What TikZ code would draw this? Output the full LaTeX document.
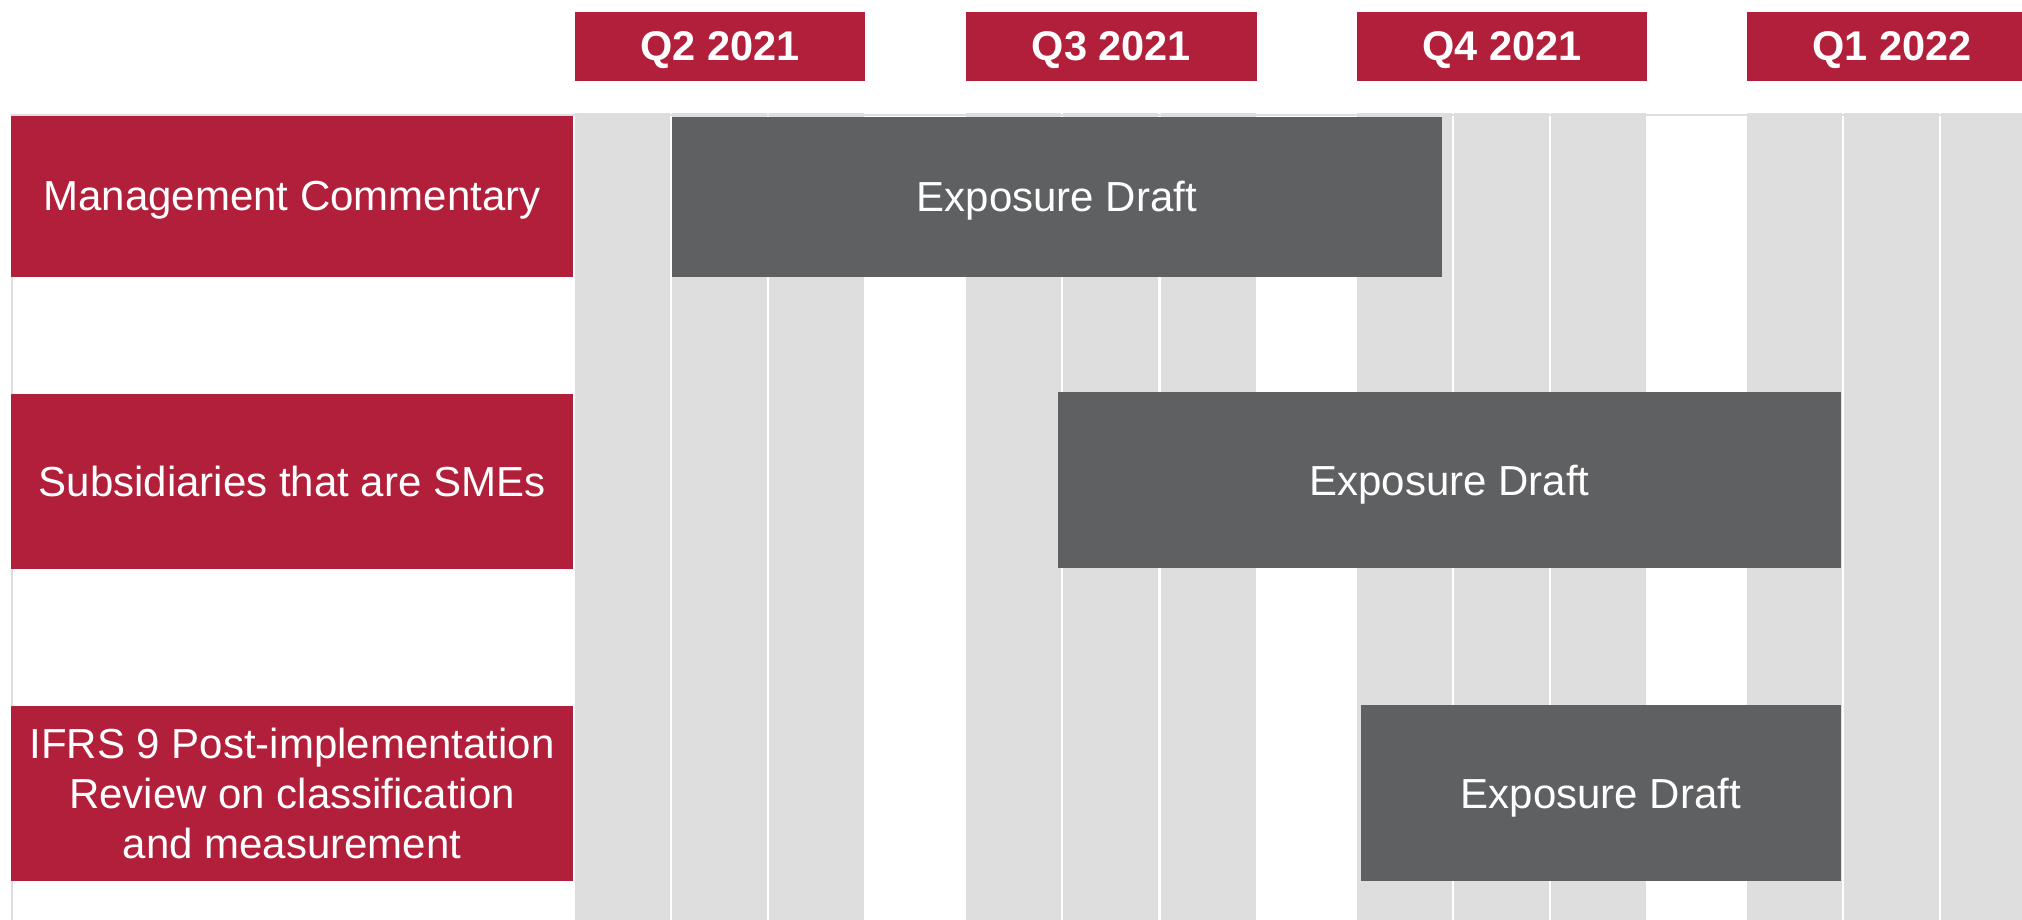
\documentclass[tikz,border=0pt]{standalone}
\usepackage{fontspec}
\setmainfont{Liberation Sans}
\definecolor{brand}{HTML}{B21F3A}
\definecolor{bar}{HTML}{5F6062}
\definecolor{track}{HTML}{DEDEDE}

\begin{document}
\begin{tikzpicture}[x=1pt, y=-1pt,
  box/.style={rectangle, inner sep=0pt, outer sep=0pt, text=white,
    align=center, text depth=0pt, anchor=north west,
    font=\fontsize{42}{50}\selectfont},
  quarter/.style={box, fill=brand, minimum width=290.8pt, minimum height=68.4pt,
    font=\bfseries\fontsize{41.5}{50}\selectfont},
  topic/.style={box, fill=brand, minimum width=562pt},
  draft/.style={box, fill=bar},
]
\useasboundingbox (0,0) rectangle (2022,920);
\clip (0,0) rectangle (2022,920);
\fill[white] (0,0) rectangle (2022,920);

% table outline
\draw[track, line width=2pt] (12,920) -- (12,115.5) -- (2022,115.5);

% month columns, three per quarter
\foreach \q in {574.5,966,1356.6,1746.6}{
  \foreach \m in {0,1,2}{
    \fill[track] ({\q+\m*97.3},113) rectangle ({\q+\m*97.3+95},920);
  }
}

% quarter headers
\node[quarter] (q2) at (574.5,12.3) {Q2 2021};
\node[quarter] (q3) at (966,12.3) {Q3 2021};
\node[quarter] (q4) at (1356.6,12.3) {Q4 2021};
\node[quarter] (q1) at (1746.6,12.3) {Q1 2022};

% project rows
\node[topic, minimum height=161pt] (mc) at (11,115.7) {Management Commentary};
\node[topic, minimum height=174.7pt] (sme) at (11,394) {Subsidiaries that are SMEs};
\node[topic, minimum height=174.7pt] (ifrs) at (11,706)
  {IFRS 9 Post-implementation\\Review on classification\\and measurement};

% timeline bars
\node[draft, minimum width=769.7pt, minimum height=160pt] (ed1) at (672,116.7) {Exposure Draft};
\node[draft, minimum width=782.8pt, minimum height=175.7pt] (ed2) at (1058,392) {Exposure Draft};
\node[draft, minimum width=479.8pt, minimum height=175.7pt] (ed3) at (1361,705) {Exposure Draft};
\end{tikzpicture}
\end{document}
